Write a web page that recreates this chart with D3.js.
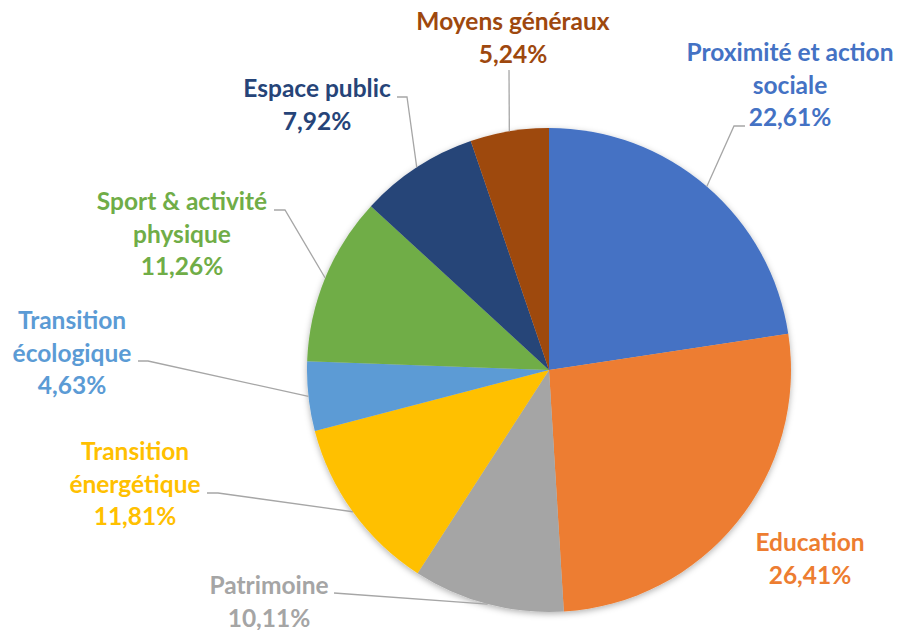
<!DOCTYPE html>
<html>
<head>
<meta charset="utf-8">
<script src="https://cdn.jsdelivr.net/npm/d3@7"></script>
<style>
  body { margin: 0; background: #fff; }
  text { font-family: Lato, "Open Sans", sans-serif; font-weight: bold; }
</style>
</head>
<body>
<div id="vis"></div>
<script>
// data, clockwise from 12 o'clock
const categories = ["Proximité et action sociale", "Education", "Patrimoine", "Transition énergétique",
    "Transition écologique", "Sport & activité physique", "Espace public", "Moyens généraux"];
const values = [22.61, 26.41, 10.11, 11.81, 4.63, 11.26, 7.92, 5.24];
const valueLabels = ["22,61%", "26,41%", "10,11%", "11,81%", "4,63%", "11,26%", "7,92%", "5,24%"];
const nameLines = [["Proximité et action", "sociale"], ["Education"], ["Patrimoine"], ["Transition", "énergétique"],
    ["Transition", "écologique"], ["Sport & activité", "physique"], ["Espace public"], ["Moyens généraux"]];
const colors = ["#4472C4", "#ED7D31", "#A5A5A5", "#FFC000", "#5B9BD5", "#70AD47", "#264478", "#9E480E"];

// label layout: centre x, first baseline y, leader elbow (x, y) and horizontal end x (null = no leader)
const labelLayout = [
    { x: 790, y: 61, ex: 734, ey: 126, hx: 745 },
    { x: 810, y: 551, ex: null },
    { x: 269, y: 594, ex: 334, ey: 593, hx: 334 },
    { x: 135, y: 460, ex: 218, ey: 493, hx: 207 },
    { x: 72, y: 329, ex: 148, ey: 361, hx: 138 },
    { x: 182, y: 210, ex: 285, ey: 210, hx: 274 },
    { x: 317, y: 97, ex: 407, ey: 97, hx: 397 },
    { x: 513, y: 30, ex: 509, ey: 70, hx: 509 }
];

const width = 904, height = 630;
const cx = 549, cy = 370, radius = 242;
const lineH = 32.5;

const svg = d3.select("#vis")
    .append("svg")
    .attr("width", width)
    .attr("height", height);

const defs = svg.append("defs");
defs.append("filter")
    .attr("id", "shadow")
    .attr("x", "-10%").attr("y", "-10%")
    .attr("width", "120%").attr("height", "120%")
    .append("feDropShadow")
    .attr("dx", 0).attr("dy", 2)
    .attr("stdDeviation", 3)
    .attr("flood-color", "#000")
    .attr("flood-opacity", 0.3);

const pie = d3.pie().sort(null).value(d => d);
const arcs = pie(values);
const arc = d3.arc().innerRadius(0).outerRadius(radius);

const g = svg.append("g")
    .attr("transform", `translate(${cx},${cy})`);

g.append("g")
    .attr("filter", "url(#shadow)")
    .selectAll("path")
    .data(arcs)
    .enter()
    .append("path")
    .attr("d", arc)
    .attr("fill", (d, i) => colors[i]);

// leader lines from the slice's outer mid-point
const edge = d3.arc().innerRadius(radius).outerRadius(radius);
svg.append("g")
    .selectAll("polyline")
    .data(arcs.filter((d, i) => labelLayout[i].ex !== null))
    .enter()
    .append("polyline")
    .attr("fill", "none")
    .attr("stroke", "#A6A6A6")
    .attr("stroke-width", 1.3)
    .attr("points", d => {
        const L = labelLayout[d.index];
        const p = edge.centroid(d);
        return [[cx + p[0], cy + p[1]], [L.ex, L.ey], [L.hx, L.ey]].map(q => q.join(",")).join(" ");
    });

// labels
const labels = svg.append("g")
    .selectAll("text")
    .data(arcs)
    .enter()
    .append("text")
    .attr("text-anchor", "middle")
    .attr("font-size", 24.5)
    .attr("fill", (d, i) => colors[i])
    .attr("x", (d, i) => labelLayout[i].x)
    .attr("y", (d, i) => labelLayout[i].y);

labels.each(function (d, i) {
    const t = d3.select(this);
    const lines = nameLines[i].concat([valueLabels[i]]);
    lines.forEach((s, k) => {
        t.append("tspan")
            .attr("x", labelLayout[i].x)
            .attr("dy", k === 0 ? 0 : lineH)
            .text(s);
    });
});
</script>
</body>
</html>
